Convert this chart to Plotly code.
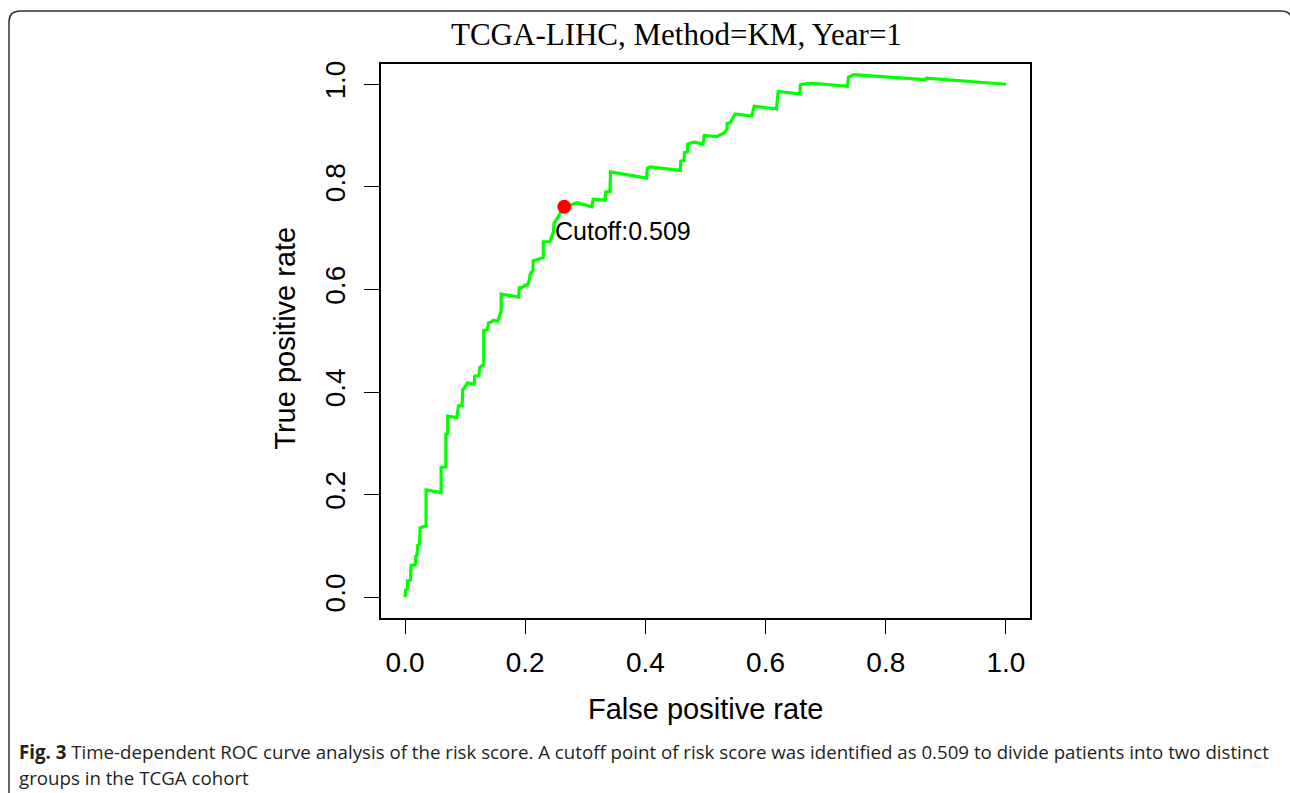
import plotly.graph_objects as go

# ROC curve values
fpr = [0.000, 0.001, 0.004, 0.004, 0.009, 0.010, 0.017, 0.018, 0.020, 0.021,
       0.024, 0.025, 0.030, 0.035, 0.035, 0.060, 0.060, 0.068, 0.068, 0.071,
       0.071, 0.086, 0.089, 0.095, 0.096, 0.099, 0.104, 0.115, 0.116, 0.123,
       0.124, 0.131, 0.131, 0.137, 0.139, 0.143, 0.147, 0.154, 0.158, 0.160,
       0.160, 0.189, 0.190, 0.195, 0.199, 0.204, 0.207, 0.208, 0.213, 0.213,
       0.219, 0.226, 0.230, 0.230, 0.241, 0.247, 0.248, 0.255, 0.263, 0.286,
       0.311, 0.313, 0.333, 0.334, 0.341, 0.342, 0.402, 0.403, 0.408, 0.444,
       0.458, 0.459, 0.464, 0.465, 0.470, 0.470, 0.476, 0.483, 0.496, 0.498,
       0.519, 0.522, 0.531, 0.536, 0.536, 0.541, 0.549, 0.577, 0.581, 0.618,
       0.619, 0.621, 0.657, 0.658, 0.666, 0.679, 0.736, 0.738, 0.747, 0.829,
       0.865, 0.868, 0.957, 1.000]
tpr = [0.000, 0.014, 0.016, 0.032, 0.033, 0.062, 0.063, 0.080, 0.082, 0.101,
       0.103, 0.135, 0.137, 0.139, 0.209, 0.204, 0.253, 0.254, 0.318, 0.319,
       0.353, 0.350, 0.373, 0.373, 0.405, 0.408, 0.418, 0.415, 0.431, 0.432,
       0.447, 0.454, 0.520, 0.522, 0.535, 0.536, 0.540, 0.538, 0.551, 0.557,
       0.591, 0.585, 0.603, 0.604, 0.608, 0.609, 0.619, 0.629, 0.638, 0.656,
       0.658, 0.661, 0.662, 0.693, 0.693, 0.713, 0.729, 0.742, 0.759, 0.769,
       0.761, 0.776, 0.774, 0.790, 0.791, 0.829, 0.817, 0.836, 0.839, 0.834,
       0.832, 0.850, 0.851, 0.867, 0.868, 0.883, 0.886, 0.887, 0.883, 0.900,
       0.898, 0.900, 0.905, 0.913, 0.924, 0.925, 0.942, 0.938, 0.957, 0.952,
       0.969, 0.986, 0.981, 0.999, 1.001, 1.002, 0.996, 1.014, 1.019, 1.012,
       1.009, 1.012, 1.003, 1.000]

cutoff_fpr = [0.265]
cutoff_tpr = [0.761]
cutoff_label = "Cutoff:0.509"

tick_vals = [0.0, 0.2, 0.4, 0.6, 0.8, 1.0]
tick_text = ["0.0", "0.2", "0.4", "0.6", "0.8", "1.0"]

title_text = "TCGA-LIHC, Method=KM, Year=1"
x_title = "False positive rate"
y_title = "True positive rate"
caption_1 = ("<b>Fig. 3</b> Time-dependent ROC curve analysis of the risk score. A cutoff point of risk "
             "score was identified as 0.509 to divide patients into two distinct")
caption_2 = "groups in the TCGA cohort"

W, H = 1290, 793
def px(x): return x / W
def py(y): return 1 - y / H

fig = go.Figure()
fig.add_trace(go.Scatter(x=fpr, y=tpr, mode="lines",
                         line=dict(color="#00FF00", width=3.2), hoverinfo="skip"))
fig.add_trace(go.Scatter(x=cutoff_fpr, y=cutoff_tpr, mode="markers",
                         marker=dict(color="#FF0000", size=14, line=dict(width=0)), hoverinfo="skip"))

axis_common = dict(range=[-0.04, 1.04], tickvals=tick_vals, ticktext=tick_text,
                   ticks="outside", ticklen=15, tickwidth=1.3, tickcolor="black",
                   showline=True, mirror=True, linecolor="black", linewidth=1.5,
                   showgrid=False, zeroline=False,
                   tickfont=dict(family="Liberation Sans", size=28, color="black"))

fig.update_layout(
    width=W, height=H, margin=dict(l=0, r=0, t=0, b=0),
    paper_bgcolor="white", plot_bgcolor="white", showlegend=False,
    xaxis=dict(domain=[px(381), px(1030)], ticklabelstandoff=4, **axis_common),
    yaxis=dict(domain=[py(617), py(61)], tickangle=-90, ticklabelstandoff=8, **axis_common),
)

r = 11
x0, y0, x1, y1 = 9, 8, 1292, 806
path = (f"M {px(x0)},{py(y0 + r)} Q {px(x0)},{py(y0)} {px(x0 + r)},{py(y0)} "
        f"L {px(x1 - r)},{py(y0)} Q {px(x1)},{py(y0)} {px(x1)},{py(y0 + r)} "
        f"L {px(x1)},{py(y1 - r)} Q {px(x1)},{py(y1)} {px(x1 - r)},{py(y1)} "
        f"L {px(x0 + r)},{py(y1)} Q {px(x0)},{py(y1)} {px(x0)},{py(y1 - r)} Z")
fig.add_shape(type="path", path=path, xref="paper", yref="paper",
              line=dict(color="#333333", width=1.5))

fig.add_annotation(x=px(676), y=py(32), xref="paper", yref="paper", text=title_text,
                   showarrow=False, xanchor="center", yanchor="middle",
                   font=dict(family="Liberation Serif", size=31, color="black"))
fig.add_annotation(x=px(706), y=py(709), xref="paper", yref="paper", text=x_title,
                   showarrow=False, xanchor="center", yanchor="middle",
                   font=dict(family="Liberation Sans", size=29, color="black"))
fig.add_annotation(x=px(285), y=py(337), xref="paper", yref="paper", text=y_title,
                   showarrow=False, xanchor="center", yanchor="middle", textangle=-90,
                   font=dict(family="Liberation Sans", size=29, color="black"))
fig.add_annotation(x=0.247, y=0.713, xref="x", yref="y", text=cutoff_label,
                   showarrow=False, xanchor="left", yanchor="middle",
                   font=dict(family="Liberation Sans", size=25, color="black"))
fig.add_annotation(x=px(17), y=py(751), xref="paper", yref="paper", text=caption_1,
                   showarrow=False, xanchor="left", yanchor="middle",
                   font=dict(family="Open Sans", size=18.7, color="#231f20"))
fig.add_annotation(x=px(17), y=py(777), xref="paper", yref="paper", text=caption_2,
                   showarrow=False, xanchor="left", yanchor="middle",
                   font=dict(family="Open Sans", size=18.7, color="#231f20"))

fig.write_html("out.html")
